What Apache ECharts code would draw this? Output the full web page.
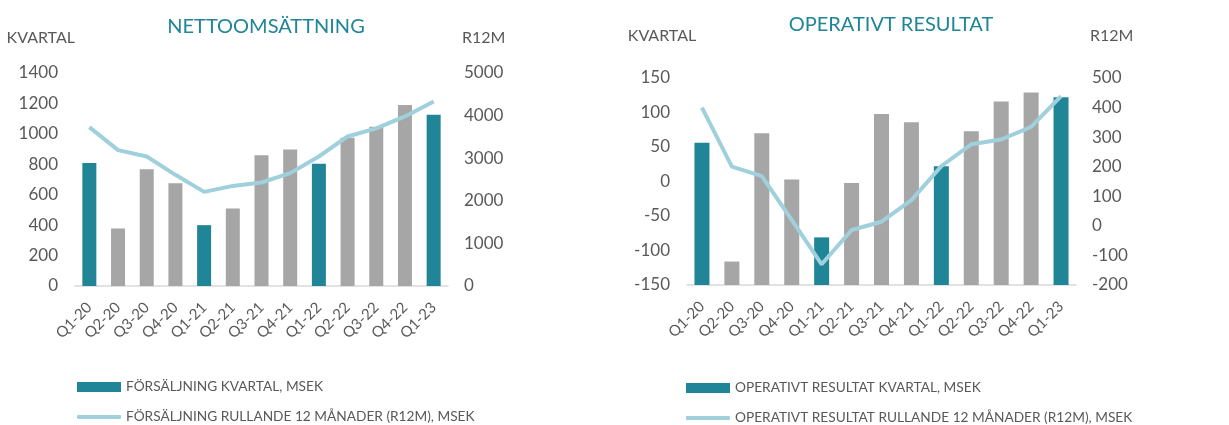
<!DOCTYPE html>
<html>
<head>
<meta charset="utf-8">
<script src="https://cdn.jsdelivr.net/npm/echarts@6/dist/echarts.min.js"></script>
<style>
  html, body { margin: 0; padding: 0; background: #fff; }
  #chart { width: 1229px; height: 425px; }
</style>
</head>
<body>
<div id="chart"></div>
<script>
// data
const categories = ['Q1-20', 'Q2-20', 'Q3-20', 'Q4-20', 'Q1-21', 'Q2-21', 'Q3-21', 'Q4-21', 'Q1-22', 'Q2-22', 'Q3-22', 'Q4-22', 'Q1-23']
const salesQuarter = [808, 378, 768, 676, 400, 510, 860, 898, 804, 975, 1046, 1190, 1126]
const salesR12 = [3730, 3190, 3040, 2610, 2210, 2350, 2430, 2650, 3040, 3510, 3700, 3980, 4330]
const ebitQuarter = [56, -116, 70, 3, -81, -2, 98, 86, 22, 73, 116, 129, 122]
const ebitR12 = [400, 200, 168, 20, -130, -14, 14, 87, 202, 276, 292, 335, 439]

const TEAL = '#1F8597'
const GREY = '#A6A6A6'
const LINE = '#9FD0DC'
const TXT = '#595959'
const FONT = 'Lato'

const S1 = 'FÖRSÄLJNING KVARTAL, MSEK'
const S2 = 'FÖRSÄLJNING RULLANDE 12 MÅNADER (R12M), MSEK'
const S3 = 'OPERATIVT RESULTAT KVARTAL, MSEK'
const S4 = 'OPERATIVT RESULTAT RULLANDE 12 MÅNADER (R12M), MSEK'

// Q1 bars are teal, the rest grey
function barData(vals) {
  return vals.map((v, i) => categories[i].startsWith('Q1') ? v : { value: v, itemStyle: { color: GREY } })
}

function valueAxis(gridIndex, min, max, interval, name, right, nameGap, nameStyle) {
  return {
    type: 'value', gridIndex: gridIndex, min: min, max: max, interval: interval,
    position: right ? 'right' : 'left',
    startValue: min,
    splitLine: { show: false },
    axisLine: { show: false },
    axisTick: { show: false },
    axisLabel: { color: TXT, fontSize: 17, fontFamily: FONT, margin: right ? 16 : 17,
      formatter: v => String(v) },
    name: name,
    nameGap: nameGap,
    nameTextStyle: Object.assign({ color: TXT, fontSize: 16, fontFamily: FONT }, nameStyle)
  }
}

function catAxis(gridIndex) {
  return {
    type: 'category', gridIndex: gridIndex, data: categories,
    axisLine: { onZero: false, lineStyle: { color: '#D9D9D9', width: 1.5 } },
    axisTick: { show: false },
    axisLabel: { color: TXT, fontSize: 15, fontFamily: FONT, rotate: 45, margin: 19, interval: 0 }
  }
}

function legend(x, y, name, isLine) {
  return {
    left: x, top: y, padding: 0, itemWidth: 44, itemHeight: isLine ? 4 : 10,
    icon: isLine ? 'roundRect' : 'rect',
    itemStyle: { color: isLine ? LINE : TEAL },
    textStyle: { color: TXT, fontSize: 13.7, fontFamily: FONT },
    data: [name]
  }
}

const chart = echarts.init(document.getElementById('chart'))
chart.setOption({
  animation: false,
  textStyle: { fontFamily: FONT },
  title: [
    { text: 'NETTOOMSÄTTNING', left: 261, top: 12, textAlign: 'center',
      textStyle: { color: TEAL, fontSize: 20, fontWeight: 'normal', fontFamily: FONT } },
    { text: 'OPERATIVT RESULTAT', left: 886, top: 10, textAlign: 'center',
      textStyle: { color: TEAL, fontSize: 20, fontWeight: 'normal', fontFamily: FONT } }
  ],
  grid: [
    { left: 75, top: 73, width: 373, height: 213 },
    { left: 687, top: 78, width: 389, height: 207 }
  ],
  legend: [
    legend(77, 380, S1, false),
    legend(77, 410, S2, true),
    legend(686, 381, S3, false),
    legend(686, 411, S4, true)
  ],
  xAxis: [catAxis(0), catAxis(1)],
  yAxis: [
    valueAxis(0, 0, 1400, 200, 'KVARTAL', false, 27, { align: 'right' }),
    valueAxis(0, 0, 5000, 1000, 'R12M', true, 27, { align: 'left', padding: [0, 0, 0, 14] }),
    valueAxis(1, -150, 150, 50, 'KVARTAL', false, 34, { align: 'center', padding: [0, 50, 0, 0] }),
    valueAxis(1, -200, 500, 100, 'R12M', true, 34, { align: 'left', padding: [0, 0, 0, 14] })
  ],
  series: [
    { name: S1, type: 'bar', xAxisIndex: 0, yAxisIndex: 0,
      barWidth: 14, itemStyle: { color: TEAL }, data: barData(salesQuarter) },
    { name: S2, type: 'line', xAxisIndex: 0, yAxisIndex: 1,
      symbol: 'none', lineStyle: { color: LINE, width: 4 }, itemStyle: { color: LINE }, data: salesR12 },
    { name: S3, type: 'bar', xAxisIndex: 1, yAxisIndex: 2,
      barWidth: 15, itemStyle: { color: TEAL }, data: barData(ebitQuarter) },
    { name: S4, type: 'line', xAxisIndex: 1, yAxisIndex: 3,
      symbol: 'none', lineStyle: { color: LINE, width: 4 }, itemStyle: { color: LINE }, data: ebitR12 }
  ]
})
</script>
</body>
</html>
